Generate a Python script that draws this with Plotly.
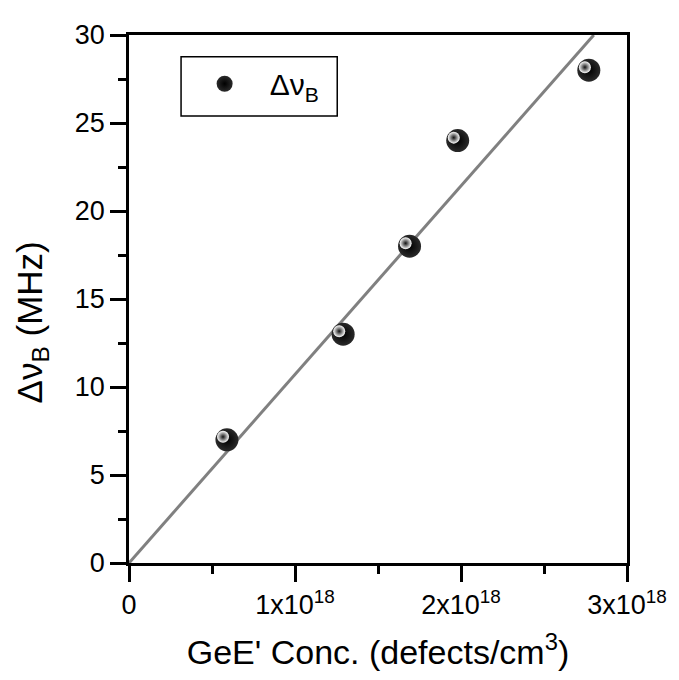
import plotly.graph_objects as go

# Data
conc = [0.59e18, 1.29e18, 1.69e18, 1.98e18, 2.77e18]   # defects/cm^3
dnu_b = [7, 13, 18, 24, 28]                            # MHz
fit_x = [0, 2.8e18]
fit_y = [0, 30]

x_tickvals = [0, 1e18, 2e18, 3e18]
x_ticktext = ["0", "1x10<sup>18</sup>", "2x10<sup>18</sup>", "3x10<sup>18</sup>"]
y_tickvals = [0, 5, 10, 15, 20, 25, 30]

FONT = "Arial, Liberation Sans, sans-serif"
X_RANGE = [0, 3e18]
Y_RANGE = [0, 30]

# page has an 8px body margin; compensate so the plot lands where the reference has it
OFF = 8
PAGE_W, PAGE_H = 679, 680
PL, PR, PT, PB = 129, 636, 29, 563          # plot-area edges in page pixels
W, H = PAGE_W - OFF, PAGE_H - OFF
L, T = PL - OFF, PT - OFF
R, B = W - (PR - OFF), H - (PB - OFF)
pw, ph = PR - PL, PB - PT


def px_x(p):
    return (p - PL) / pw


def px_y(p):
    return (PB - p) / ph


# small pixel offset for the specular highlight on each ball
dx = 4 / pw * (X_RANGE[1] - X_RANGE[0])
dy = 3 / ph * (Y_RANGE[1] - Y_RANGE[0])

fig = go.Figure()
fig.add_trace(go.Scatter(x=fit_x, y=fit_y, mode="lines",
                         line=dict(color="#808080", width=3),
                         showlegend=False, hoverinfo="skip"))
fig.add_trace(go.Scatter(x=conc, y=dnu_b, mode="markers",
                         name="\u00a0\u00a0\u00a0Δν<sub>B</sub>",
                         marker=dict(size=23, color="#2a2a2a",
                                     gradient=dict(type="radial", color="black"),
                                     line=dict(width=0))))
fig.add_trace(go.Scatter(x=conc, y=dnu_b, mode="markers", showlegend=False,
                         xaxis="x2", yaxis="y2", hoverinfo="skip",
                         marker=dict(size=12, color="white",
                                     gradient=dict(type="radial", color="#111111"),
                                     line=dict(width=0))))

axis_common = dict(showline=True, linecolor="black", linewidth=2.5, mirror=True,
                   ticks="outside", ticklen=16, tickwidth=2.5, tickcolor="black",
                   showgrid=False, zeroline=False,
                   tickfont=dict(family=FONT, size=27, color="black"))

fig.update_layout(
    width=W, height=H,
    margin=dict(l=L, r=R, t=T, b=B),
    paper_bgcolor="white", plot_bgcolor="white",
    font=dict(family=FONT, color="black", size=27),
    xaxis=dict(range=X_RANGE, tickmode="array", tickvals=x_tickvals, ticktext=x_ticktext,
               minor=dict(dtick=0.5e18, tick0=0, ticks="outside", ticklen=8,
                          tickwidth=2.5, tickcolor="black"),
               title=dict(text="GeE' Conc. (defects/cm<sup>3</sup>)",
                          font=dict(family=FONT, size=34), standoff=22),
               **axis_common),
    yaxis=dict(range=Y_RANGE, tickmode="array", tickvals=y_tickvals,
               minor=dict(dtick=2.5, tick0=0, ticks="outside", ticklen=8,
                          tickwidth=2.5, tickcolor="black"),
               **axis_common),
    xaxis2=dict(overlaying="x", range=[X_RANGE[0] + dx, X_RANGE[1] + dx],
                visible=False),
    yaxis2=dict(overlaying="y", range=[Y_RANGE[0] - dy, Y_RANGE[1] - dy],
                visible=False),
    legend=dict(x=px_x(206), y=px_y(52), xanchor="left", yanchor="top",
                borderwidth=0, bgcolor="rgba(0,0,0,0)",
                font=dict(family=FONT, size=30), itemwidth=30),
    showlegend=True,
    shapes=[dict(type="rect", xref="paper", yref="paper",
                 x0=px_x(182), x1=px_x(341), y0=px_y(111), y1=px_y(51),
                 line=dict(color="black", width=1.5), fillcolor="rgba(0,0,0,0)",
                 layer="above")],
    annotations=[dict(text="Δν<sub>B</sub> (MHz)", textangle=-90,
                      xref="paper", yref="paper", x=px_x(30), y=px_y(320),
                      xanchor="center", yanchor="middle", showarrow=False,
                      font=dict(family=FONT, size=35, color="black"))],
)

fig.write_html("out.html")
